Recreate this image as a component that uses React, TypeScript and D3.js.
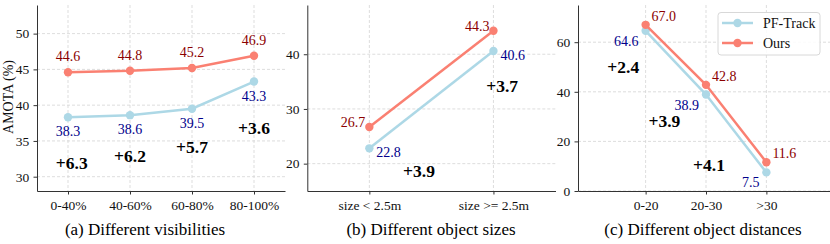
import { useEffect, useRef } from 'react';
import * as d3 from 'd3';

// (a) visibility
const visCategories = ['0-40%', '40-60%', '60-80%', '80-100%'];
const visPfTrack = [38.3, 38.6, 39.5, 43.3];
const visOurs = [44.6, 44.8, 45.2, 46.9];
const visTicks = [30, 35, 40, 45, 50];
const visGainX = [0.06, 1, 2, 3];
const visGainY = [31.9, 32.9, 34.2, 36.8];

// (b) object size
const sizeCategories = ['size < 2.5m', 'size >= 2.5m'];
const sizePfTrack = [22.8, 40.6];
const sizeOurs = [26.7, 44.3];
const sizeTicks = [20, 30, 40];
const sizeGainX = [0.4, 1.07];
const sizeGainY = [18.6, 34.2];

// (c) object distance
const distCategories = ['0-20', '20-30', '>30'];
const distPfTrack = [64.6, 38.9, 7.5];
const distOurs = [67.0, 42.8, 11.6];
const distTicks = [0, 20, 40, 60];
const distGainX = [-0.37, 0.31, 1.05];
const distGainY = [50.1, 28.3, 10.4];

const titles = ['(a) Different visibilities', '(b) Different object sizes', '(c) Different object distances'];

const OURS = '#fa8072';
const PF = '#add8e6';
const OURS_TXT = '#8b0000';
const PF_TXT = '#00008b';
const FONT = '"Liberation Serif", "Times New Roman", serif';

type LabelPos = { dx: number; dy: number; anchor: string };

interface PanelSpec {
  cats: string[];
  pf: number[];
  ours: number[];
  ticks: number[];
  gainX: number[];
  gainY: number[];
  x0: number; x1: number;
  xDomain: [number, number];
  yDomain: [number, number];
  oursLabel: LabelPos;
  pfLabel: LabelPos;
  title: string;
  titleX: number;
}

const TOP = 5;
const BOTTOM = 191;

export default function App() {
  const svgRef = useRef<SVGSVGElement>(null);

  useEffect(() => {
    if (!svgRef.current) return;
    const svg = d3.select(svgRef.current);
    svg.selectAll('*').remove();

    const panels: PanelSpec[] = [
      {
        cats: visCategories, pf: visPfTrack, ours: visOurs, ticks: visTicks,
        gainX: visGainX, gainY: visGainY,
        x0: 37, x1: 285, xDomain: [-0.5, 3.5], yDomain: [28, 54],
        oursLabel: { dx: 0, dy: -11, anchor: 'middle' },
        pfLabel: { dx: 0, dy: 19, anchor: 'middle' },
        title: titles[0], titleX: 145,
      },
      {
        cats: sizeCategories, pf: sizePfTrack, ours: sizeOurs, ticks: sizeTicks,
        gainX: sizeGainX, gainY: sizeGainY,
        x0: 307.3, x1: 555.5, xDomain: [-0.5, 1.5], yDomain: [15, 49],
        oursLabel: { dx: -4, dy: 0, anchor: 'end' },
        pfLabel: { dx: 7, dy: 9, anchor: 'start' },
        title: titles[1], titleX: 431,
      },
      {
        cats: distCategories, pf: distPfTrack, ours: distOurs, ticks: distTicks,
        gainX: distGainX, gainY: distGainY,
        x0: 578, x1: 834, xDomain: [-1.12, 3.12], yDomain: [0, 75],
        oursLabel: { dx: 6, dy: -4, anchor: 'start' },
        pfLabel: { dx: -7, dy: 15, anchor: 'end' },
        title: titles[2], titleX: 703,
      },
    ];

    panels.forEach((p) => {
      const x = d3.scaleLinear().domain(p.xDomain).range([p.x0, p.x1]);
      const y = d3.scaleLinear().domain(p.yDomain).range([BOTTOM, TOP]);
      const idx = p.cats.map((_, i) => i);
      const g = svg.append('g');

      // grid
      g.selectAll('.hgrid').data(p.ticks).enter().append('line')
        .attr('x1', p.x0).attr('x2', p.x1)
        .attr('y1', d => y(d)).attr('y2', d => y(d))
        .attr('stroke', '#d4d4d4').attr('stroke-width', 0.8).attr('stroke-dasharray', '3,2');
      g.selectAll('.vgrid').data(idx).enter().append('line')
        .attr('x1', d => x(d)).attr('x2', d => x(d))
        .attr('y1', TOP).attr('y2', BOTTOM)
        .attr('stroke', '#d4d4d4').attr('stroke-width', 0.8).attr('stroke-dasharray', '3,2');

      // axes
      const xAxis = d3.axisBottom(x).tickValues(idx).tickFormat((d) => p.cats[d as number]).tickSize(3.5).tickSizeOuter(0);
      const gx = g.append('g').attr('transform', `translate(0,${BOTTOM})`).call(xAxis);
      const yAxis = d3.axisLeft(y).tickValues(p.ticks).tickFormat(d3.format('d')).tickSize(3.5).tickSizeOuter(0);
      const gy = g.append('g').attr('transform', `translate(${p.x0},0)`).call(yAxis);
      [gx, gy].forEach((ax) => {
        ax.select('.domain').attr('stroke', '#333').attr('stroke-width', 1);
        ax.selectAll('.tick line').attr('stroke', '#333');
        ax.selectAll('.tick text').attr('fill', '#111').attr('font-size', 13.5).attr('font-family', FONT);
      });
      gx.selectAll('.tick text').attr('dy', '0.95em');
      gy.selectAll('.tick text').attr('dx', '-0.1em');

      const line = d3.line<number>().x((_, i) => x(i)).y(d => y(d));

      const series = [
        { vals: p.pf, color: PF, txt: PF_TXT, pos: p.pfLabel },
        { vals: p.ours, color: OURS, txt: OURS_TXT, pos: p.oursLabel },
      ];
      series.forEach((s) => {
        g.append('path').datum(s.vals)
          .attr('fill', 'none').attr('stroke', s.color).attr('stroke-width', 2.5)
          .attr('d', line);
        g.selectAll(null).data(s.vals).enter().append('circle')
          .attr('cx', (_, i) => x(i)).attr('cy', d => y(d)).attr('r', 4.2)
          .attr('fill', s.color);
      });
      series.forEach((s) => {
        g.selectAll(null).data(s.vals).enter().append('text')
          .attr('x', (_, i) => x(i) + s.pos.dx).attr('y', d => y(d) + s.pos.dy)
          .attr('text-anchor', s.pos.anchor)
          .attr('font-family', FONT).attr('font-size', 14).attr('fill', s.txt)
          .text(d => d.toFixed(1));
      });

      // improvement labels
      g.selectAll(null).data(p.ours.map((v, i) => v - p.pf[i])).enter().append('text')
        .attr('x', (_, i) => x(p.gainX[i])).attr('y', (_, i) => y(p.gainY[i]))
        .attr('dy', '0.35em')
        .attr('text-anchor', 'middle')
        .attr('font-family', FONT).attr('font-size', 17.5).attr('font-weight', 'bold').attr('fill', '#000')
        .text(d => `+${d.toFixed(1)}`);

      svg.append('text')
        .attr('x', p.titleX).attr('y', 235)
        .attr('text-anchor', 'middle')
        .attr('font-family', FONT).attr('font-size', 17).attr('fill', '#000')
        .text(p.title);
    });

    // y axis label for (a)
    svg.append('text')
      .attr('transform', 'translate(13,97) rotate(-90)')
      .attr('text-anchor', 'middle')
      .attr('font-family', FONT).attr('font-size', 14).attr('fill', '#111')
      .text('AMOTA (%)');

    // legend in (c)
    const lg = svg.append('g').attr('transform', 'translate(718,12.5)');
    lg.append('rect').attr('width', 102).attr('height', 42.5).attr('rx', 3)
      .attr('fill', 'white').attr('fill-opacity', 0.85).attr('stroke', '#d8d8d8');
    const legendItems = [{ name: 'PF-Track', color: PF }, { name: 'Ours', color: OURS }];
    legendItems.forEach((it, i) => {
      const yy = 10.5 + i * 20;
      lg.append('line').attr('x1', 4).attr('x2', 35).attr('y1', yy).attr('y2', yy)
        .attr('stroke', it.color).attr('stroke-width', 2.5);
      lg.append('circle').attr('cx', 19.5).attr('cy', yy).attr('r', 4.2).attr('fill', it.color);
      lg.append('text').attr('x', 45).attr('y', yy).attr('dy', '0.35em')
        .attr('font-family', FONT).attr('font-size', 14).attr('fill', '#111')
        .text(it.name);
    });
  }, []);

  return (
    <div style={{ position: 'absolute', left: 0, top: 0 }}>
      <svg ref={svgRef} width={830} height={244} style={{ display: 'block', background: 'white' }} />
    </div>
  );
}
